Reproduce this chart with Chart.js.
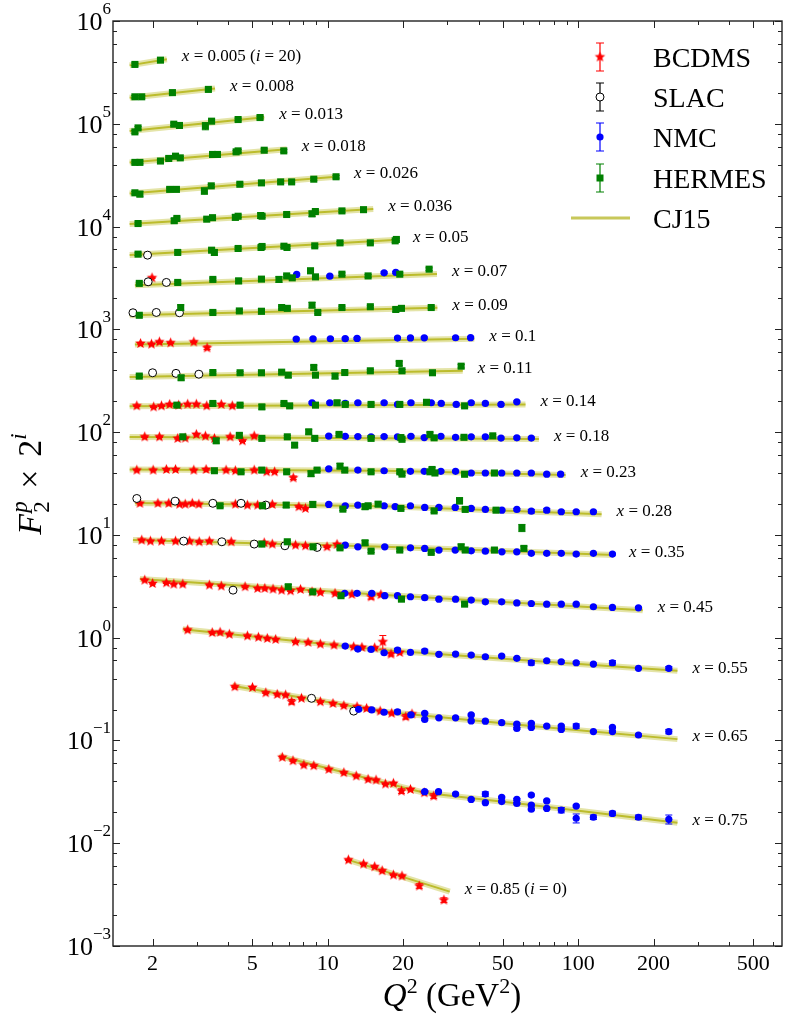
<!DOCTYPE html>
<html>
<head>
<meta charset="utf-8">
<script src="https://cdn.jsdelivr.net/npm/chart.js@4.4.1/dist/chart.umd.min.js"></script>
<style>
  html, body { margin: 0; padding: 0; background: #fff; }
  #wrap { width: 788px; height: 1016px; }
</style>
</head>
<body>
<div id="wrap"><canvas id="chart" width="788" height="1016"></canvas></div>
<script>
// x bins, top (i = 20) to bottom (i = 0); plotted values are F2 * 2^i
const xBins = ['0.005', '0.008', '0.013', '0.018', '0.026', '0.036', '0.05', '0.07', '0.09', '0.1',
  '0.11', '0.14', '0.18', '0.23', '0.28', '0.35', '0.45', '0.55', '0.65', '0.75', '0.85'];
const binPower = [20, 19, 18, 17, 16, 15, 14, 13, 12, 11, 10, 9, 8, 7, 6, 5, 4, 3, 2, 1, 0];

// CJ15 curves per bin: [Q2, F2 * 2^i]
const cj15 = [
  [[1.62, 3.7e5], [2.28, 4.25e5]],
  [[1.62, 1.79e5], [3.55, 2.2e5]],
  [[1.62, 8.5e4], [5.58, 1.16e5]],
  [[1.62, 4.2e4], [6.87, 5.65e4]],
  [[1.62, 2.1e4], [11.1, 3.07e4]],
  [[1.62, 1.06e4], [15.2, 1.48e4]],
  [[1.62, 5.3e3], [19.1, 7.45e3]],
  [[1.70, 2.69e3], [27.3, 3.45e3]],
  [[1.62, 1.37e3], [27.4, 1.62e3]],
  [[1.70, 713], [38.5, 808]],
  [[1.62, 343], [34.6, 395]],
  [[1.62, 178], [61.6, 186]],
  [[1.62, 89.7], [69.7, 85.7]],
  [[1.62, 43.2], [16.9, 42.0], [89.1, 38.2]],
  [[1.70, 20.4], [16.9, 19.0], [124, 15.9]],
  [[1.67, 8.90], [16.9, 7.66], [139, 6.37]],
  [[1.78, 3.72], [16.9, 2.60], [181, 1.85]],
  [[2.64, 1.21], [16.5, 0.757], [65, 0.596], [249, 0.476]],
  [[4.16, 0.340], [16.8, 0.19], [65, 0.138], [249, 0.103]],
  [[6.4, 0.0705], [24.3, 0.031], [65, 0.0235], [249, 0.0158]],
  [[11.9, 0.00697], [30.7, 0.00338]]
];

// data points: [Q2, F2 * 2^i, relative error (optional)]
const bcdms = [
  [1.99, 3170],
  [1.79, 729], [1.98, 718], [2.13, 755], [2.36, 739], [2.92, 755], [3.30, 661, 0.04],
  [1.73, 180], [2.02, 176], [2.17, 180], [2.34, 186], [2.54, 183], [2.76, 187], [2.99, 187], [3.29, 180], [3.76, 186], [4.16, 180],
  [1.86, 90.0], [2.13, 90.0], [2.52, 86.9], [2.70, 87.5], [2.99, 95.0], [3.25, 91.5], [3.53, 86.9], [4.08, 90.0], [4.57, 82.3], [5.09, 91.7],
  [1.73, 42.7], [2.01, 42.7], [2.27, 43.3], [2.47, 43.3], [2.92, 42.7], [3.27, 43.3], [3.93, 42.7], [4.28, 42.1], [5.09, 42.7], [5.71, 41.1], [6.14, 41.1], [7.29, 35.9, 0.04],
  [1.78, 20.3], [2.10, 20.3], [2.32, 20.3], [2.56, 19.9], [2.70, 19.9], [2.88, 20.3], [3.06, 19.9], [4.28, 19.9], [4.78, 19.5], [5.25, 19.5], [6.01, 19.8], [7.67, 18.8], [8.15, 18.1],
  [1.81, 8.90], [1.96, 8.70], [2.17, 8.70], [2.47, 8.70], [2.81, 8.70], [3.07, 8.57], [3.37, 8.70], [4.12, 8.57], [5.58, 8.38], [6.01, 8.14], [7.44, 7.96], [8.15, 7.84], [9.94, 7.66], [10.9, 8.09],
  [1.86, 3.63], [2.00, 3.37], [2.27, 3.42], [2.43, 3.32], [2.64, 3.32], [3.37, 3.25], [3.76, 3.18], [4.68, 3.13], [5.25, 3.02], [5.61, 3.02], [6.05, 2.97], [6.55, 2.90], [7.11, 2.86], [7.79, 2.95], [8.66, 2.79], [9.35, 2.76], [10.7, 2.70], [12.5, 2.64], [14.9, 2.50, 0.05], [16.3, 2.62],
  [2.76, 1.19], [3.46, 1.12], [3.72, 1.13], [4.05, 1.08], [4.78, 1.04], [5.29, 1.01], [5.74, 0.984], [6.20, 0.962], [7.44, 0.912], [8.35, 0.900], [9.35, 0.866], [10.6, 0.847], [12.7, 0.815], [13.7, 0.805], [15.4, 0.797], [16.6, 0.912, 0.15], [17.9, 0.692, 0.04], [19.4, 0.719],
  [4.26, 0.333], [5.01, 0.328], [5.66, 0.291], [6.29, 0.281], [6.79, 0.277], [7.18, 0.238, 0.05], [7.86, 0.257], [9.35, 0.238], [10.5, 0.229], [11.6, 0.218], [13.1, 0.213], [14.3, 0.205], [16.2, 0.193], [18.0, 0.184], [20.5, 0.170, 0.05], [21.7, 0.181],
  [6.59, 0.0686], [7.27, 0.0635], [8.03, 0.0577], [8.80, 0.0568], [10.1, 0.0524], [11.6, 0.0486], [13.0, 0.0451], [14.5, 0.0419], [15.6, 0.0412], [17.0, 0.0377], [18.3, 0.0383], [19.7, 0.0322, 0.05], [21.4, 0.0334], [24.3, 0.0310], [26.5, 0.0288, 0.05],
  [12.1, 0.00688], [13.9, 0.00628], [15.4, 0.00591], [16.5, 0.00540], [18.3, 0.00491], [19.8, 0.00480], [23.2, 0.00384, 0.05], [29.1, 0.00280, 0.05]
];

const slac = [
  [1.91, 5270],
  [1.92, 2900], [2.27, 2860],
  [1.67, 1450], [2.07, 1460], [2.56, 1450],
  [2.00, 378], [2.48, 373], [3.06, 366],
  [1.73, 22.6], [2.46, 21.3], [3.48, 20.3], [4.51, 20.3], [5.66, 19.5],
  [2.66, 8.70, 0.05], [3.78, 8.57], [5.09, 8.14], [6.75, 7.84], [9.07, 7.55],
  [4.19, 2.90],
  [8.62, 0.257], [12.7, 0.193]
];

const nmc = [
  [7.52, 3420], [10.2, 3290], [16.8, 3550], [18.7, 3580],
  [7.49, 805], [8.74, 808], [10.25, 810], [11.75, 812], [13.1, 815], [19.0, 822], [21.4, 825], [24.3, 826], [32.4, 828], [37.2, 830],
  [8.66, 193], [10.2, 193], [11.75, 190], [13.2, 193], [16.8, 193], [19.0, 186], [21.5, 193], [25.9, 193], [28.4, 190], [32.6, 186], [37.4, 193], [42.6, 190], [49.2, 186], [56.9, 197],
  [10.1, 91.5], [11.75, 91.0], [13.2, 90.5], [14.9, 90.0], [16.8, 90.5], [19.0, 90.0], [21.5, 91.0], [24.3, 88.5], [28.3, 91.0], [32.4, 89.0], [37.4, 90.0], [42.6, 90.0], [49.2, 87.5], [56.9, 88.0], [65.0, 87.5],
  [10.1, 43.9], [13.2, 42.7], [16.8, 42.1], [21.4, 41.5], [24.3, 41.5], [28.3, 41.5], [32.4, 41.5], [37.4, 40.0], [42.6, 40.0], [49.5, 40.0], [56.9, 40.0], [65.0, 40.0], [74.9, 39.0], [85.1, 39.0],
  [10.1, 19.8], [11.75, 19.2], [13.2, 19.5], [16.8, 19.2], [18.6, 18.8], [21.4, 19.2], [24.4, 18.5], [27.8, 18.5], [32.3, 18.5], [37.4, 18.1], [42.6, 17.7], [49.6, 17.4], [56.9, 17.7], [65.0, 17.0, 0.04], [74.9, 17.4, 0.04], [85.6, 16.8], [98.2, 16.8], [115, 16.8],
  [11.75, 7.96], [13.2, 7.66], [16.9, 7.66], [21.4, 7.48], [24.4, 7.39], [27.8, 7.12], [32.3, 7.12], [37.4, 7.00], [42.6, 6.95], [49.6, 6.85], [56.9, 6.85], [65.0, 6.61], [74.9, 6.61], [85.6, 6.61], [98.2, 6.50], [115, 6.61], [137, 6.50],
  [11.7, 2.70], [13.1, 2.70], [15.0, 2.70], [16.9, 2.56], [19.0, 2.56], [21.4, 2.50], [24.4, 2.45], [27.8, 2.37], [32.4, 2.37], [37.4, 2.32], [42.6, 2.23], [49.5, 2.23], [56.9, 2.18], [65.0, 2.15], [74.9, 2.12], [85.6, 2.12], [98.2, 2.12], [115, 2.00], [137, 1.97], [174, 1.95],
  [11.75, 0.828], [13.2, 0.774], [14.9, 0.769, 0.03], [16.8, 0.713], [19.0, 0.757, 0.04], [21.4, 0.719], [24.4, 0.741, 0.04], [27.8, 0.688], [32.4, 0.692], [37.4, 0.677], [42.6, 0.652], [49.5, 0.662], [56.9, 0.629], [65.0, 0.570, 0.05], [74.9, 0.596], [85.6, 0.583], [98.2, 0.570], [115, 0.553], [137, 0.570, 0.05], [174, 0.503], [230, 0.503, 0.04],
  [13.3, 0.201], [15.0, 0.198], [16.8, 0.188], [19.0, 0.190, 0.04], [21.5, 0.177], [24.4, 0.184], [24.4, 0.160], [27.8, 0.166], [32.4, 0.166], [37.4, 0.177], [37.4, 0.155], [42.6, 0.154], [49.5, 0.149], [56.9, 0.144], [56.9, 0.131], [65.0, 0.147], [65.0, 0.134], [74.9, 0.138], [85.6, 0.138], [85.6, 0.128], [98.2, 0.138, 0.05], [115, 0.122], [137, 0.134], [137, 0.122], [174, 0.113], [230, 0.122, 0.05],
  [24.4, 0.0317], [27.7, 0.0317], [32.4, 0.0301], [37.4, 0.0267], [42.6, 0.0301, 0.05], [42.6, 0.0248], [49.5, 0.0280], [49.5, 0.0254], [56.9, 0.0267], [56.9, 0.0244], [65.0, 0.0294], [65.0, 0.0235], [65.0, 0.0214], [74.9, 0.0258], [74.9, 0.0218], [85.6, 0.0210, 0.06], [98.2, 0.0230], [98.2, 0.0175, 0.1], [115, 0.0179, 0.05], [137, 0.0195, 0.05], [174, 0.0179, 0.05], [230, 0.0171, 0.1]
];

const hermes = [
  [1.70, 3.78e5], [2.15, 4.16e5],
  [1.70, 1.83e5], [1.81, 1.83e5], [2.40, 2.01e5], [3.34, 2.16e5],
  [1.70, 8.34e4], [1.75, 9.12e4], [2.43, 9.91e4], [2.56, 9.63e4], [3.25, 9.5e4, 0.08], [3.44, 1.06e5], [4.39, 1.10e5], [5.37, 1.15e5],
  [1.70, 4.21e4], [1.78, 4.21e4], [2.15, 4.34e4], [2.32, 4.60e4], [2.47, 4.84e4], [2.58, 4.66e4], [3.47, 5.03e4], [3.63, 5.03e4], [4.31, 5.33e4], [4.39, 5.45e4], [5.58, 5.53e4], [6.68, 5.45e4],
  [1.70, 2.13e4], [1.78, 2.07e4, 0.06], [2.34, 2.30e4], [2.49, 2.30e4], [3.22, 2.22e4, 0.07], [3.43, 2.49e4], [4.46, 2.58e4], [5.44, 2.66e4, 0.05], [6.49, 2.72e4], [7.18, 2.72e4], [8.80, 2.89e4], [10.8, 3.05e4],
  [1.75, 1.07e4], [2.44, 1.14e4, 0.05], [2.50, 1.20e4], [3.29, 1.18e4], [3.47, 1.22e4], [4.28, 1.23e4, 0.06], [4.39, 1.26e4], [5.40, 1.28e4, 0.06], [5.47, 1.26e4], [6.86, 1.31e4], [8.66, 1.33e4, 0.06], [8.93, 1.40e4], [11.4, 1.42e4], [13.9, 1.46e4],
  [1.75, 5390], [2.52, 5600], [3.44, 5890], [3.53, 5600, 0.06], [4.39, 6120], [5.42, 6260], [5.47, 6400], [6.69, 6440], [6.88, 6260], [8.88, 6490], [11.2, 6940], [14.8, 6940], [18.6, 7260], [18.8, 7490],
  [1.77, 2800], [2.52, 2860], [3.48, 3060], [4.41, 2960, 0.06], [5.44, 3080], [6.39, 3060, 0.06], [6.86, 3310], [7.22, 3170], [8.54, 3710, 0.06], [8.94, 3240], [11.4, 3440], [14.5, 3310], [19.4, 3440], [25.4, 3850],
  [1.77, 1370], [2.59, 1630, 0.06], [3.48, 1460], [4.44, 1510], [5.44, 1500, 0.06], [6.55, 1630], [6.90, 1600], [8.66, 1720, 0.06], [9.13, 1460], [11.4, 1630], [14.8, 1660], [18.7, 1560, 0.05], [19.7, 1600], [25.9, 1630],
  [1.77, 351], [2.60, 338, 0.05], [3.48, 380], [4.47, 378], [5.44, 378], [6.55, 383], [6.96, 358, 0.05], [8.80, 426, 0.05], [8.94, 358], [10.7, 351, 0.06], [11.7, 380], [14.8, 395], [19.3, 466, 0.05], [19.8, 395], [26.2, 378], [34.1, 438, 0.04],
  [2.50, 183], [3.48, 190], [4.47, 183], [5.46, 176, 0.05], [6.69, 190], [7.05, 180], [8.94, 183], [10.9, 193, 0.05], [11.75, 186], [14.9, 186], [19.4, 186], [24.8, 195], [35.2, 180],
  [2.64, 90.0], [3.59, 82.3, 0.05], [4.44, 93.0, 0.05], [5.46, 86.9], [6.90, 90.0], [7.38, 74.7, 0.05], [8.40, 100.7, 0.05], [8.88, 86.9], [11.1, 95.0], [14.9, 86.9], [19.6, 88.5], [19.8, 85.1], [25.6, 95.0, 0.05], [26.6, 88.0], [35.0, 89.0], [45.6, 92.0],
  [3.53, 42.1], [4.51, 41.1], [5.46, 42.7, 0.05], [6.86, 41.1], [8.58, 39.4, 0.06], [9.07, 42.7], [11.2, 46.7, 0.06], [11.7, 42.7], [14.9, 41.1], [19.4, 41.1], [19.8, 39.0], [25.6, 41.1], [26.1, 43.3, 0.05], [26.8, 40.0], [35.2, 38.9], [46.3, 40.0],
  [3.72, 19.2], [5.49, 19.2], [6.83, 19.5, 0.05], [8.72, 19.8, 0.06], [11.5, 17.8], [14.1, 18.8, 0.06], [14.5, 19.2], [15.9, 19.9, 0.05], [19.6, 18.1], [26.6, 17.1], [33.6, 21.5, 0.07], [35.4, 17.7], [47.0, 17.4],
  [5.46, 8.14], [6.90, 8.57], [8.74, 7.66], [11.2, 7.48], [14.1, 8.38, 0.05], [14.9, 6.95], [19.4, 7.12], [25.9, 6.76], [34.1, 7.66, 0.06], [35.4, 7.12], [46.3, 7.12], [59.6, 11.7, 0.08], [60.7, 7.39, 0.05],
  [6.96, 3.13, 0.05], [8.72, 2.79], [11.3, 2.56], [19.7, 2.37], [35.2, 2.12]
];

// axis ticks
const xTickLabels = [2, 5, 10, 20, 50, 100, 200, 500];
const yDecades = [-3, -2, -1, 0, 1, 2, 3, 4, 5, 6];
const legendNames = ['BCDMS', 'SLAC', 'NMC', 'HERMES', 'CJ15'];

const SERIF = "'Liberation Serif', 'DejaVu Serif', serif";

function makeStar(color, r) {
  const s = Math.ceil(r * 2 + 2);
  const c = document.createElement('canvas');
  c.width = s; c.height = s;
  const g = c.getContext('2d');
  g.translate(s / 2, s / 2);
  g.beginPath();
  for (let k = 0; k < 10; k++) {
    const rad = k % 2 ? r * 0.45 : r;
    const a = -Math.PI / 2 + k * Math.PI / 5;
    g.lineTo(rad * Math.cos(a), rad * Math.sin(a));
  }
  g.closePath();
  g.fillStyle = color;
  g.fill();
  return c;
}
const starImg = makeStar('#ff0000', 5.5);

const toXY = (list) => list.map(p => ({ x: p[0], y: p[1], e: p[2] }));

const datasets = [];
cj15.forEach((curve, k) => {
  datasets.push({
    data: toXY(curve), showLine: true, pointRadius: 0,
    borderColor: 'rgba(206,206,96,0.55)', borderWidth: 6, order: 11, bin: k
  });
  datasets.push({
    data: toXY(curve), showLine: true, pointRadius: 0,
    borderColor: '#bcbc2c', borderWidth: 2, order: 10
  });
});
datasets.push({
  label: 'BCDMS', data: toXY(bcdms), pointStyle: starImg, pointRadius: 5,
  errColor: '#ff0000', errDefault: 0.015, order: 3
});
datasets.push({
  label: 'SLAC', data: toXY(slac), pointStyle: 'circle', pointRadius: 4,
  backgroundColor: '#ffffff', borderColor: '#000000', borderWidth: 1,
  errColor: '#000000', errDefault: 0.015, order: 2
});
datasets.push({
  label: 'NMC', data: toXY(nmc), pointStyle: 'circle', pointRadius: 3.6,
  backgroundColor: '#0000ff', borderColor: '#0000ff', borderWidth: 0,
  errColor: '#0000ff', errDefault: 0.02, order: 1
});
datasets.push({
  label: 'HERMES', data: toXY(hermes), pointStyle: 'rect', pointRadius: 5,
  backgroundColor: '#008000', borderColor: '#008000', borderWidth: 0,
  errColor: '#008000', errDefault: 0.03, order: 0
});

// draw a run of text pieces: {t, font, dy, adv}
function runWidth(ctx, runs) {
  let w = 0;
  runs.forEach(r => { ctx.font = r.font; const m = ctx.measureText(r.t).width; w += (r.adv === undefined ? m : r.adv); });
  return w;
}
function drawRuns(ctx, runs, x, y) {
  runs.forEach(r => {
    ctx.font = r.font;
    ctx.fillText(r.t, x + (r.dx || 0), y + (r.dy || 0));
    x += (r.adv === undefined ? ctx.measureText(r.t).width : r.adv);
  });
}
function mathLabel(text, size) {
  // letters in math italic, everything else upright
  const runs = [];
  text.split(/([a-z]+)/).forEach(part => {
    if (!part) return;
    const it = /^[a-z]+$/.test(part);
    runs.push({ t: part, font: (it ? 'italic ' : '') + size + 'px ' + SERIF });
  });
  return runs;
}

const decor = {
  id: 'decor',
  beforeDatasetDraw(chart, args) {
    const ds = chart.data.datasets[args.index];
    if (!ds.errColor) return;
    const ctx = chart.ctx, ys = chart.scales.y;
    ctx.save();
    ctx.strokeStyle = ds.errColor;
    ctx.lineWidth = 1;
    args.meta.data.forEach((el, k) => {
      const p = ds.data[k];
      const e = p.e || ds.errDefault;
      const t = ys.getPixelForValue(p.y * (1 + e));
      const b = ys.getPixelForValue(p.y * (1 - e));
      ctx.beginPath();
      ctx.moveTo(el.x, t); ctx.lineTo(el.x, b);
      ctx.moveTo(el.x - 3.5, t); ctx.lineTo(el.x + 3.5, t);
      ctx.moveTo(el.x - 3.5, b); ctx.lineTo(el.x + 3.5, b);
      ctx.stroke();
    });
    ctx.restore();
  },
  afterDraw(chart) {
    const ctx = chart.ctx, a = chart.chartArea, xs = chart.scales.x, ys = chart.scales.y;
    ctx.save();
    ctx.fillStyle = '#000';
    ctx.strokeStyle = '#222';

    // ticks pointing inward on all four sides
    ctx.lineWidth = 1;
    ctx.beginPath();
    for (let d = 0; d <= 2; d++) {
      for (let m = 1; m <= 9; m++) {
        const v = m * Math.pow(10, d);
        if (v < xs.min || v > xs.max) continue;
        const len = xTickLabels.includes(v) ? 7 : 4;
        const p = Math.round(xs.getPixelForValue(v)) + 0.5;
        ctx.moveTo(p, a.bottom); ctx.lineTo(p, a.bottom - len);
        ctx.moveTo(p, a.top); ctx.lineTo(p, a.top + len);
      }
    }
    yDecades.forEach(n => {
      [1, 2, 4, 6, 8].forEach(m => {
        const v = m * Math.pow(10, n);
        if (v > ys.max * 1.0001) return;
        const len = m === 1 ? 7 : 4;
        const p = Math.round(ys.getPixelForValue(v)) + 0.5;
        ctx.moveTo(a.left, p); ctx.lineTo(a.left + len, p);
        ctx.moveTo(a.right, p); ctx.lineTo(a.right - len, p);
      });
    });
    ctx.stroke();

    // frame
    ctx.lineWidth = 1.4;
    ctx.strokeRect(a.left, a.top, a.right - a.left, a.bottom - a.top);

    // y tick labels 10^n
    ctx.textBaseline = 'alphabetic';
    yDecades.forEach(n => {
      const p = ys.getPixelForValue(Math.pow(10, n));
      const sup = n < 0 ? '\u2212' + (-n) : String(n);
      ctx.font = '17px ' + SERIF;
      const ws = ctx.measureText(sup).width;
      ctx.textAlign = 'left';
      ctx.fillText(sup, 111 - ws, p - 7);
      ctx.font = '26px ' + SERIF;
      const wb = ctx.measureText('10').width;
      ctx.fillText('10', 111 - ws - wb, p + 9);
    });

    // bin labels beside the end of each CJ15 curve
    ctx.textAlign = 'left';
    chart.data.datasets.forEach(ds => {
      if (ds.bin === undefined) return;
      const last = ds.data[ds.data.length - 1];
      const i = binPower[ds.bin];
      const txt = 'x = ' + xBins[ds.bin] + ((i === 20 || i === 0) ? ' (i = ' + i + ')' : '');
      const px = xs.getPixelForValue(last.x) + 15;
      const py = ys.getPixelForValue(last.y) - 4 + 6;
      drawRuns(ctx, mathLabel(txt, 17), px, py);
    });

    // x axis title
    const xt = [
      { t: 'Q', font: 'italic 33px ' + SERIF },
      { t: '2', font: '22px ' + SERIF, dy: -13 },
      { t: ' (GeV', font: '33px ' + SERIF },
      { t: '2', font: '22px ' + SERIF, dy: -13 },
      { t: ')', font: '33px ' + SERIF }
    ];
    drawRuns(ctx, xt, 452 - runWidth(ctx, xt) / 2, 1006);

    // y axis title, rotated
    const yt = [
      { t: 'F', font: 'italic 34px ' + SERIF, adv: 22 },
      { t: '2', font: '23px ' + SERIF, dy: 8, adv: 0 },
      { t: 'p', font: 'italic 23px ' + SERIF, dy: -14, adv: 12 },
      { t: '\u00d7', font: '34px ' + SERIF, dx: 12, adv: 44 },
      { t: '2', font: '34px ' + SERIF },
      { t: 'i', font: 'italic 23px ' + SERIF, dy: -15 }
    ];
    ctx.save();
    ctx.translate(41, 484);
    ctx.rotate(-Math.PI / 2);
    drawRuns(ctx, yt, -runWidth(ctx, yt) / 2, 0);
    ctx.restore();

    // legend
    const lx = 600, rows = [57, 97, 137, 178, 218];
    const colors = ['#ff0000', '#000000', '#0000ff', '#008000'];
    rows.forEach((ry, k) => {
      ctx.lineWidth = 1.2;
      if (k < 4) {
        ctx.strokeStyle = colors[k];
        ctx.beginPath();
        ctx.moveTo(lx, ry - 14); ctx.lineTo(lx, ry + 14);
        ctx.moveTo(lx - 4, ry - 14); ctx.lineTo(lx + 4, ry - 14);
        ctx.moveTo(lx - 4, ry + 14); ctx.lineTo(lx + 4, ry + 14);
        ctx.stroke();
        if (k === 0) {
          ctx.drawImage(starImg, lx - starImg.width / 2, ry - starImg.height / 2);
        } else if (k === 1) {
          ctx.beginPath(); ctx.arc(lx, ry, 4, 0, Math.PI * 2);
          ctx.fillStyle = '#fff'; ctx.fill(); ctx.lineWidth = 1; ctx.strokeStyle = '#000'; ctx.stroke();
        } else if (k === 2) {
          ctx.beginPath(); ctx.arc(lx, ry, 3.6, 0, Math.PI * 2);
          ctx.fillStyle = '#0000ff'; ctx.fill();
        } else {
          ctx.fillStyle = '#008000'; ctx.fillRect(lx - 3.5, ry - 3.5, 7, 7);
        }
      } else {
        ctx.strokeStyle = '#c8c85a';
        ctx.lineWidth = 3;
        ctx.beginPath(); ctx.moveTo(571, ry); ctx.lineTo(630, ry); ctx.stroke();
      }
      ctx.fillStyle = '#000';
      ctx.font = '28px ' + SERIF;
      ctx.fillText(legendNames[k], 653, ry + 10);
    });
    ctx.restore();
  }
};

new Chart(document.getElementById('chart'), {
  type: 'scatter',
  data: { datasets },
  options: {
    responsive: false,
    devicePixelRatio: 1,
    animation: false,
    events: [],
    layout: { padding: { top: 21, right: 2, left: 0, bottom: 0 } },
    plugins: { legend: { display: false }, tooltip: { enabled: false } },
    scales: {
      x: {
        type: 'logarithmic', min: 1.39, max: 651,
        grid: { display: false, drawTicks: false },
        border: { display: false },
        afterBuildTicks: (scale) => { scale.ticks = xTickLabels.map(v => ({ value: v })); },
        afterFit: (scale) => { scale.height = 70; },
        ticks: {
          autoSkip: false, maxRotation: 0, padding: 5, color: '#000',
          font: { family: SERIF, size: 22 },
          callback: (v) => String(v)
        }
      },
      y: {
        type: 'logarithmic', min: 1e-3, max: 1e6,
        grid: { display: false, drawTicks: false },
        border: { display: false },
        ticks: { display: false },
        afterFit: (scale) => { scale.width = 113; }
      }
    }
  },
  plugins: [decor]
});
</script>
</body>
</html>
